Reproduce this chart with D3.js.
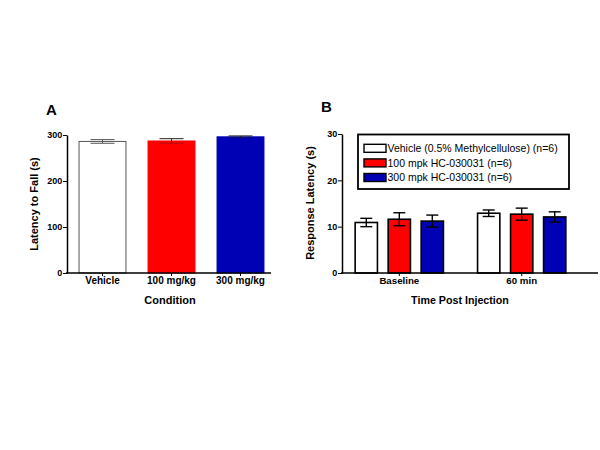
<!DOCTYPE html>
<html>
<head>
<meta charset="utf-8">
<script src="https://cdn.jsdelivr.net/npm/d3@7"></script>
<style>
body { margin: 0; background: #fff; }
svg { font-family: "Liberation Sans", Arial, sans-serif; }
</style>
</head>
<body>
<div id="vis"></div>
<script>
var width = 600;
var height = 450;

// panel A data
var conditions = ['Vehicle', '100 mg/kg', '300 mg/kg'];
var fallMeans = [286, 287, 296];
var fallErrors = [4, 5, 2];
var conditionColors = ['#ffffff', '#ff0000', '#0000b4'];

// panel B data
var timepoints = ['Baseline', '60 min'];
var groups = ['Vehicle (0.5% Methylcellulose) (n=6)', '100 mpk HC-030031 (n=6)', '300 mpk HC-030031 (n=6)'];
var baselineMeans = [10.9, 11.6, 11.2];
var baselineErrors = [0.9, 1.4, 1.3];
var min60Means = [12.9, 12.7, 12.1];
var min60Errors = [0.7, 1.3, 1.1];
var groupColors = ['#ffffff', '#ff0000', '#0000b4'];

var aTicks = [0, 100, 200, 300];
var bTicks = [0, 10, 20, 30];

var svg = d3.select('#vis')
    .append('svg')
    .attr('width', width)
    .attr('height', height);

// ---------- panel A ----------
var yA = d3.scaleLinear().domain([0, 300]).range([273, 135]);
var xA = d3.scaleBand().domain(conditions)
    .range([68, 275]).paddingInner(0.32).paddingOuter(0.16);

var gA = svg.append('g');

gA.selectAll('rect.bar')
    .data(conditions)
    .enter().append('rect')
    .attr('class', 'bar')
    .attr('x', function (d) { return xA(d); })
    .attr('width', xA.bandwidth())
    .attr('y', function (d, i) { return yA(fallMeans[i]); })
    .attr('height', function (d, i) { return yA(0) - yA(fallMeans[i]); })
    .attr('fill', function (d, i) { return conditionColors[i]; })
    .attr('stroke', function (d, i) { return i === 0 ? '#555' : conditionColors[i]; })
    .attr('stroke-width', 1);

// error bars
conditions.forEach(function (c, i) {
    var cx = xA(c) + xA.bandwidth() / 2;
    var lo = yA(fallMeans[i] - fallErrors[i]);
    var hi = yA(fallMeans[i] + fallErrors[i]);
    var col = i === 0 ? '#555' : '#222';
    gA.append('line').attr('x1', cx).attr('x2', cx).attr('y1', lo).attr('y2', hi)
        .attr('stroke', col).attr('stroke-width', 1);
    [lo, hi].forEach(function (yy, k) {
        gA.append('line').attr('x1', cx - 12).attr('x2', cx + 12).attr('y1', yy).attr('y2', yy)
            .attr('stroke', col).attr('stroke-width', 1)
            .attr('opacity', (k === 0 && i > 0) ? 0.35 : 1);
    });
});

// axes
var axisYA = gA.append('g')
    .attr('transform', 'translate(67,0)')
    .call(d3.axisLeft(yA).tickValues(aTicks).tickSize(4).tickSizeOuter(0));
var axisXA = gA.append('g')
    .attr('transform', 'translate(0,273)')
    .call(d3.axisBottom(xA).tickSize(3).tickSizeOuter(0));
axisXA.select('.domain').remove();
gA.append('line').attr('x1', 66).attr('x2', 271).attr('y1', 273).attr('y2', 273)
    .attr('stroke', '#000').attr('stroke-width', 1.5);

axisYA.select('.domain').attr('stroke-width', 1.5);
axisYA.selectAll('text').attr('font-size', 9).attr('font-weight', 'bold')
    .attr('font-family', '"Liberation Sans", Arial, sans-serif').attr('dx', '0.25em');
axisXA.selectAll('text').attr('font-size', 10).attr('font-weight', 'bold')
    .attr('font-family', '"Liberation Sans", Arial, sans-serif').attr('dy', '0.5em');

gA.append('text')
    .attr('transform', 'translate(38,204) rotate(-90)')
    .attr('text-anchor', 'middle')
    .attr('font-size', 11).attr('font-weight', 'bold')
    .text('Latency to Fall (s)');
gA.append('text')
    .attr('x', 170).attr('y', 304)
    .attr('text-anchor', 'middle')
    .attr('font-size', 11).attr('font-weight', 'bold')
    .text('Condition');
gA.append('text')
    .attr('x', 46).attr('y', 115)
    .attr('font-size', 15).attr('font-weight', 'bold')
    .text('A');

// ---------- panel B ----------
var yB = d3.scaleLinear().domain([0, 30]).range([273, 134]);
var x0 = d3.scaleBand().domain(timepoints).range([338.1, 582.9]);
var x1 = d3.scaleBand().domain(groups)
    .range([11.7, 110.7]).paddingInner(0.325).paddingOuter(0.1625);

var tableB = timepoints.map(function (t, ti) {
    var means = ti === 0 ? baselineMeans : min60Means;
    var errs = ti === 0 ? baselineErrors : min60Errors;
    return groups.map(function (g, gi) {
        return { time: t, group: g, mean: means[gi], err: errs[gi], color: groupColors[gi] };
    });
});

var gB = svg.append('g');

var gTime = gB.selectAll('g.time')
    .data(tableB)
    .enter().append('g')
    .attr('class', 'time')
    .attr('transform', function (d) { return 'translate(' + x0(d[0].time) + ',0)'; });

gTime.selectAll('rect')
    .data(function (d) { return d; })
    .enter().append('rect')
    .attr('x', function (d) { return x1(d.group); })
    .attr('width', x1.bandwidth())
    .attr('y', function (d) { return yB(d.mean); })
    .attr('height', function (d) { return yB(0) - yB(d.mean); })
    .attr('fill', function (d) { return d.color; })
    .attr('stroke', '#000')
    .attr('stroke-width', 1.6);

var eb = gTime.selectAll('g.err')
    .data(function (d) { return d; })
    .enter().append('g')
    .attr('class', 'err');
eb.append('line')
    .attr('x1', function (d) { return x1(d.group) + x1.bandwidth() / 2; })
    .attr('x2', function (d) { return x1(d.group) + x1.bandwidth() / 2; })
    .attr('y1', function (d) { return yB(d.mean - d.err); })
    .attr('y2', function (d) { return yB(d.mean + d.err); });
eb.append('line')
    .attr('x1', function (d) { return x1(d.group) + x1.bandwidth() / 2 - 6; })
    .attr('x2', function (d) { return x1(d.group) + x1.bandwidth() / 2 + 6; })
    .attr('y1', function (d) { return yB(d.mean + d.err); })
    .attr('y2', function (d) { return yB(d.mean + d.err); });
eb.append('line')
    .attr('x1', function (d) { return x1(d.group) + x1.bandwidth() / 2 - 6; })
    .attr('x2', function (d) { return x1(d.group) + x1.bandwidth() / 2 + 6; })
    .attr('y1', function (d) { return yB(d.mean - d.err); })
    .attr('y2', function (d) { return yB(d.mean - d.err); });
eb.selectAll('line').attr('stroke', '#000').attr('stroke-width', 1.4);

var axisYB = gB.append('g')
    .attr('transform', 'translate(342,0)')
    .call(d3.axisLeft(yB).tickValues(bTicks).tickSize(4).tickSizeOuter(0));
var axisXB = gB.append('g')
    .attr('transform', 'translate(0,273)')
    .call(d3.axisBottom(x0).tickSize(3).tickSizeOuter(0));
axisXB.select('.domain').remove();
gB.append('line').attr('x1', 341).attr('x2', 598).attr('y1', 273).attr('y2', 273)
    .attr('stroke', '#000').attr('stroke-width', 1.5);

axisYB.select('.domain').attr('stroke-width', 1.5);
axisYB.selectAll('text').attr('font-size', 9).attr('font-weight', 'bold')
    .attr('font-family', '"Liberation Sans", Arial, sans-serif').attr('dx', '0.25em');
axisXB.selectAll('text').attr('font-size', 9.7).attr('font-weight', 'bold')
    .attr('font-family', '"Liberation Sans", Arial, sans-serif').attr('dy', '0.5em');

gB.append('text')
    .attr('transform', 'translate(314,203) rotate(-90)')
    .attr('text-anchor', 'middle')
    .attr('font-size', 11).attr('font-weight', 'bold')
    .text('Response Latency (s)');
gB.append('text')
    .attr('x', 460).attr('y', 304)
    .attr('text-anchor', 'middle')
    .attr('font-size', 10.7).attr('font-weight', 'bold')
    .text('Time Post Injection');
gB.append('text')
    .attr('x', 321).attr('y', 112)
    .attr('font-size', 15).attr('font-weight', 'bold')
    .text('B');

// legend
var legend = gB.append('g');
legend.append('rect')
    .attr('x', 358).attr('y', 134.5).attr('width', 211).attr('height', 54.5)
    .attr('fill', '#fff').attr('stroke', '#000').attr('stroke-width', 1.8);
var rows = legend.selectAll('g.row')
    .data(groups)
    .enter().append('g')
    .attr('class', 'row')
    .attr('transform', function (d, i) { return 'translate(364,' + (148.3 + i * 14.6) + ')'; });
rows.append('rect')
    .attr('x', 0).attr('y', -4).attr('width', 22).attr('height', 8)
    .attr('fill', function (d, i) { return groupColors[i]; })
    .attr('stroke', '#000').attr('stroke-width', 1.4);
rows.append('text')
    .attr('x', 23.5).attr('y', 0).attr('dy', '0.36em')
    .attr('font-size', 10.5)
    .text(function (d) { return d; });
</script>
</body>
</html>
